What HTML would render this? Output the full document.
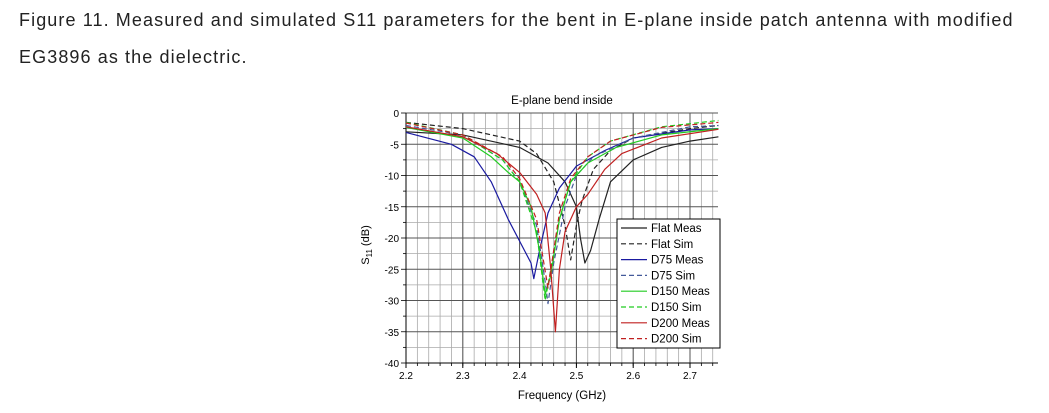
<!DOCTYPE html>
<html><head><meta charset="utf-8"><style>
body{margin:0;width:1049px;height:413px;background:#fff;overflow:hidden;font-family:"Liberation Sans",sans-serif;}
.cap{position:absolute;left:19px;font-size:18px;letter-spacing:1.1px;color:#222;white-space:nowrap}
</style></head><body>
<div class="cap" style="top:10px">Figure 11. Measured and simulated S11 parameters for the bent in E-plane inside patch antenna with modified</div>
<div class="cap" style="top:47px">EG3896 as the dielectric.</div>
<svg id="s" width="1049" height="413" style="position:absolute;left:0;top:0" font-family="Liberation Sans, sans-serif"></svg>
<script>
const X=f=>406+(f-2.2)*568, Y=d=>113-d*6.25;
let h='';
for(let i=0;i<=27;i++){const x=X(2.2+i*0.02);h+=`<line x1="${x}" y1="113" x2="${x}" y2="363" stroke="#aaa" stroke-width="0.8"/><line x1="${x}" y1="363" x2="${x}" y2="366" stroke="#000" stroke-width="0.8"/>`;}
for(let i=0;i<=16;i++){const y=Y(-i*2.5);h+=`<line x1="406" y1="${y}" x2="718" y2="${y}" stroke="${i%2?'#aaa':'#555'}" stroke-width="${i%2?0.8:1}"/><line x1="${i%2?403:401}" y1="${y}" x2="406" y2="${y}" stroke="#000" stroke-width="0.8"/>`;}
for(let i=0;i<=5;i++){const x=X(2.2+i*0.1);h+=`<line x1="${x}" y1="113" x2="${x}" y2="363" stroke="#555" stroke-width="1"/><line x1="${x}" y1="363" x2="${x}" y2="368" stroke="#000"/>`;}
h+=`<line x1="406" y1="113" x2="406" y2="363" stroke="#000"/><line x1="406" y1="363" x2="718" y2="363" stroke="#000"/>`;
for(let i=0;i<=8;i++){const y=Y(-i*5);h+=`<text x="399" y="${y+4}" font-size="10" text-anchor="end">${i?'-'+i*5:0}</text>`;}
for(let i=0;i<=5;i++){const x=X(2.2+i*0.1);h+=`<text x="${x}" y="379" font-size="10" text-anchor="middle">${(2.2+i*0.1).toFixed(1)}</text>`;}
h+=`<text x="562" y="104" font-size="11.5" text-anchor="middle">E-plane bend inside</text>`;
h+=`<text x="562" y="399" font-size="11.5" text-anchor="middle">Frequency (GHz)</text>`;
h+=`<text transform="translate(369,245) rotate(-90)" font-size="11" text-anchor="middle">S<tspan font-size="8" dy="3">11</tspan><tspan dy="-3"> (dB)</tspan></text>`;
const S={
fm:['#222',0,[[2.2,-3],[2.3,-3.5],[2.4,-5.5],[2.45,-8],[2.48,-11],[2.5,-15],[2.507,-20],[2.515,-24],[2.525,-22],[2.54,-17],[2.56,-11],[2.6,-7.5],[2.65,-5.5],[2.7,-4.5],[2.75,-3.8]]],
fs:['#222',1,[[2.2,-1.5],[2.3,-2.5],[2.4,-4.5],[2.43,-6.5],[2.46,-11],[2.48,-18],[2.49,-23.5],[2.5,-18],[2.51,-14],[2.53,-9],[2.56,-6],[2.6,-4],[2.7,-2.5],[2.75,-2]]],
bm:['#1a1aa0',0,[[2.2,-3.1],[2.28,-5],[2.32,-7],[2.35,-11],[2.38,-17],[2.4,-20.5],[2.42,-24],[2.425,-26.5],[2.435,-22],[2.45,-16],[2.47,-12],[2.5,-8.5],[2.55,-6],[2.6,-4],[2.7,-2.7],[2.75,-2.5]]],
bs:['#445a9a',1,[[2.2,-2],[2.3,-3.5],[2.37,-7.5],[2.4,-11],[2.43,-18],[2.445,-27],[2.45,-30.5],[2.46,-24],[2.48,-15],[2.5,-10],[2.53,-7],[2.6,-4],[2.7,-2.2],[2.75,-2]]],
gm:['#22cc22',0,[[2.2,-2.3],[2.3,-4],[2.35,-7],[2.38,-9.5],[2.4,-11],[2.42,-15],[2.435,-22],[2.445,-29],[2.455,-26],[2.47,-17],[2.49,-11],[2.52,-8],[2.57,-5.5],[2.65,-3.5],[2.75,-2.5]]],
gs:['#22cc22',1,[[2.2,-1.5],[2.3,-3.5],[2.37,-7.5],[2.4,-11],[2.43,-19],[2.445,-30],[2.455,-25],[2.47,-17],[2.49,-11],[2.52,-7],[2.56,-4.5],[2.65,-2.2],[2.75,-1.2]]],
rm:['#c02020',0,[[2.2,-2.2],[2.3,-3.8],[2.36,-6.5],[2.4,-9.5],[2.43,-13],[2.445,-16],[2.455,-25],[2.463,-35],[2.47,-25],[2.48,-19],[2.5,-15],[2.52,-13],[2.55,-9],[2.58,-6.5],[2.65,-4],[2.75,-2.6]]],
rs:['#c02020',1,[[2.2,-1.6],[2.3,-3.5],[2.37,-7],[2.4,-10.5],[2.43,-17],[2.45,-28],[2.46,-22],[2.47,-16],[2.49,-10.5],[2.52,-7],[2.56,-4.5],[2.65,-2.3],[2.75,-1.5]]]};
for(const k in S){const [c,d,p]=S[k];h+=`<polyline fill="none" stroke="${c}" stroke-width="1.2" stroke-linejoin="round" ${d?'stroke-dasharray="5,3"':''} points="${p.map(q=>X(q[0]).toFixed(1)+','+Y(q[1]).toFixed(1)).join(' ')}"/>`;}
h+=`<rect x="617" y="219" width="103" height="129" fill="#fff" stroke="#000"/>`;
const L=[['#222',0,'Flat Meas'],['#222',1,'Flat Sim'],['#1a1aa0',0,'D75 Meas'],['#445a9a',1,'D75 Sim'],['#22cc22',0,'D150 Meas'],['#22cc22',1,'D150 Sim'],['#c02020',0,'D200 Meas'],['#c02020',1,'D200 Sim']];
L.forEach((l,i)=>{const y=228+i*15.8;h+=`<line x1="621" y1="${y}" x2="647" y2="${y}" stroke="${l[0]}" stroke-width="1.2" ${l[1]?'stroke-dasharray="5,3"':''}/><text x="651" y="${y+4}" font-size="11.5">${l[2]}</text>`;});
document.getElementById('s').innerHTML=h;
</script>
</body></html>
